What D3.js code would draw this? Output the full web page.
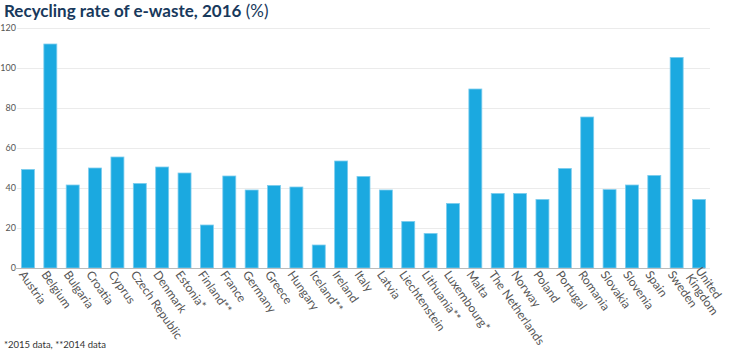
<!DOCTYPE html>
<html><head><meta charset="utf-8">
<script src="https://cdn.jsdelivr.net/npm/d3@7"></script>
<style>
html,body{margin:0;padding:0;background:#fff;}
svg{display:block;font-family:Lato,"Open Sans",sans-serif;}
</style></head>
<body><svg id="c" width="730" height="352"></svg>
<script>
const categories = ["Austria","Belgium","Bulgaria","Croatia","Cyprus","Czech Republic","Denmark","Estonia*","Finland**","France","Germany","Greece","Hungary","Iceland**","Ireland","Italy","Latvia","Liechtenstein","Lithuania**","Luxembourg*","Malta","The Netherlands","Norway","Poland","Portugal","Romania","Slovakia","Slovenia","Spain","Sweden","United Kingdom"];
const values = [49.3,112,41.5,50,55.5,42.3,50.5,47.5,21.5,46,39,41.3,40.5,11.5,53.5,45.8,39,23.3,17.3,32.3,89.5,37.3,37.3,34.3,49.8,75.5,39.2,41.5,46.3,105.3,34.3];
const yTicks = [0,20,40,60,80,100,120];
const titleMain = "Recycling rate of e-waste, 2016";
const titleUnit = " (%)";
const footnote = "*2015 data, **2014 data";

const svg = d3.select("#c");
const x0 = 17, x1 = 710, yTop = 28, yBottom = 268;
const x = d3.scaleBand().domain(categories).range([x0, x1]).paddingInner(0.42).paddingOuter(0.2);
const y = d3.scaleLinear().domain([0, 120]).range([yBottom, yTop]);

// title
const t = svg.append("text").attr("x", 4).attr("y", 17).attr("fill", "#18395c").attr("font-size", 17);
t.append("tspan").attr("font-weight", 700).text(titleMain);
t.append("tspan").attr("font-weight", 400).text(titleUnit);

// grid
const yAxis = d3.axisLeft(y).tickValues(yTicks).tickSize(-(x1 - x0)).tickPadding(1);
const gy = svg.append("g").attr("transform", `translate(${x0},0)`).call(yAxis);
gy.select(".domain").remove();
gy.selectAll(".tick line").attr("stroke", "#ebebeb");
gy.selectAll(".tick text").attr("fill", "#555").attr("font-size", 9).attr("font-family", "Lato,sans-serif");

// bars
svg.append("g").selectAll("rect").data(values).join("rect")
  .attr("x", (d, i) => x(categories[i]))
  .attr("y", d => y(d))
  .attr("width", x.bandwidth())
  .attr("height", d => y(0) - y(d))
  .attr("fill", "#1ba9e0")
  .attr("stroke", "#7fcdee")
  .attr("stroke-width", 0.8);

// x axis
const xAxis = d3.axisBottom(x).tickSize(0).tickPadding(0);
const gx = svg.append("g").attr("transform", `translate(0,${yBottom})`).call(xAxis);
gx.select(".domain").attr("d", `M15,0.5H705`).attr("stroke", "#bbb");
gx.selectAll(".tick text")
  .attr("fill", "#555").attr("font-size", 12).attr("font-family", "Lato,sans-serif")
  .attr("text-anchor", "start")
  .attr("transform", "translate(-6,4) rotate(55)")
  .attr("dy", "0.35em")
  .attr("y", 0)
  .each(function(d) {
    if (d === "United Kingdom") {
      const el = d3.select(this); el.text(null);
      el.append("tspan").attr("x", 0).attr("dy", "-0.2em").text("United");
      el.append("tspan").attr("x", 0).attr("dy", "1.0em").text("Kingdom");
    }
  });

svg.append("text").attr("x", 4).attr("y", 348).attr("fill", "#333").attr("font-size", 9.5).text(footnote);
</script></body></html>
